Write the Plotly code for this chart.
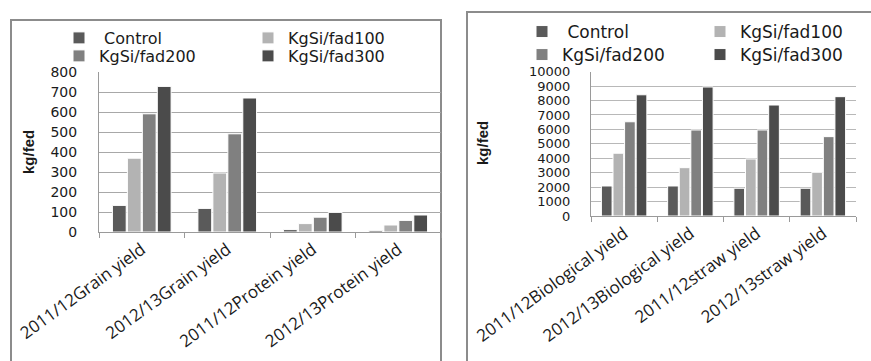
import plotly.graph_objects as go

W, H = 871, 361

series_names = ["Control", "KgSi/fad100", "KgSi/fad200", "KgSi/fad300"]
legend_labels = [" Control", "KgSi/fad100", "KgSi/fad200", "KgSi/fad300"]
colors = ["#5a5a5a", "#b3b3b3", "#808080", "#4b4b4b"]

left_categories = ["2011/12Grain yield", "2012/13Grain yield",
                   "2011/12Protein yield", "2012/13Protein yield"]
left_control = [133, 118, 12, 8]
left_100 = [369, 295, 42, 35]
left_200 = [591, 491, 74, 58]
left_300 = [728, 670, 98, 85]

right_categories = ["2011/12Biological yield", "2012/13Biological yield",
                    "2011/12straw yield", "2012/13straw yield"]
right_control = [2080, 2080, 1920, 1920]
right_100 = [4350, 3350, 3950, 3030]
right_200 = [6530, 5960, 5960, 5500]
right_300 = [8400, 8940, 7690, 8270]

left_tickvals = [0, 100, 200, 300, 400, 500, 600, 700, 800]
right_tickvals = [0, 1000, 2000, 3000, 4000, 5000, 6000, 7000, 8000, 9000, 10000]

left_values = [left_control, left_100, left_200, left_300]
right_values = [right_control, right_100, right_200, right_300]

def px(x):
    return x / W

def py(y):
    return 1 - y / H

fig = go.Figure()

# row assignment of legend entries: first two on row 1, last two on row 2
left_legends = ["legend", "legend", "legend3", "legend3"]
right_legends = ["legend2", "legend2", "legend4", "legend4"]

for lab, col, vals, lg in zip(legend_labels, colors, left_values, left_legends):
    fig.add_trace(go.Bar(
        x=left_categories, y=vals, name=lab, marker_color=col,
        marker_line_color="white", marker_line_width=1,
        xaxis="x", yaxis="y", legend=lg,
    ))
for lab, col, vals, lg in zip(legend_labels, colors, right_values, right_legends):
    fig.add_trace(go.Bar(
        x=right_categories, y=vals, name=lab, marker_color=col,
        marker_line_color="white", marker_line_width=1,
        xaxis="x2", yaxis="y2", legend=lg,
    ))

tick_font = dict(family="DejaVu Sans", size=14, color="#1a1a1a")
cat_font = dict(family="Open Sans", size=17, color="#1a1a1a")

def leg(x, y, w, size):
    return dict(orientation="h", x=px(x), y=py(y), xanchor="left", yanchor="middle",
                entrywidth=w, entrywidthmode="pixels",
                font=dict(family="DejaVu Sans", size=size, color="#1a1a1a"),
                bgcolor="rgba(0,0,0,0)", itemclick=False, itemdoubleclick=False)

fig.update_layout(
    width=W, height=H,
    margin=dict(l=0, r=0, t=0, b=0, autoexpand=False),
    paper_bgcolor="white", plot_bgcolor="white",
    barmode="group", bargap=0.3, bargroupgap=0.08,
    xaxis=dict(domain=[px(99), px(441)], anchor="y",
               showgrid=False, showline=True, linecolor="#9a9a9a", linewidth=1,
               ticks="outside", tickson="boundaries", ticklen=5, tickcolor="#9a9a9a",
               tickangle=-36, tickfont=cat_font),
    yaxis=dict(domain=[py(232), py(72)], anchor="x", range=[0, 800],
               tickvals=left_tickvals, tickformat="d", showgrid=True, gridcolor="#a8a8a8", gridwidth=1,
               showline=True, linecolor="#9a9a9a", linewidth=1, zeroline=False,
               ticks="", ticklabelstandoff=18, tickfont=tick_font),
    xaxis2=dict(domain=[px(591), px(856)], anchor="y2",
                showgrid=False, showline=True, linecolor="#9a9a9a", linewidth=1,
                ticks="outside", tickson="boundaries", ticklen=5, tickcolor="#9a9a9a",
                tickangle=-36, tickfont=cat_font),
    yaxis2=dict(domain=[py(216), py(71.7)], anchor="x2", range=[0, 10000],
                tickvals=right_tickvals, tickformat="d", showgrid=True, gridcolor="#b8b8b8", gridwidth=1,
                showline=True, linecolor="#9a9a9a", linewidth=1, zeroline=False,
                ticks="", ticklabelstandoff=17, tickfont=dict(tick_font, size=13)),
    legend=leg(59, 38, 144, 16),
    legend3=leg(59, 56, 144, 16),
    legend2=leg(522, 32, 133, 17),
    legend4=leg(522, 55, 133, 17),
    annotations=[
        dict(text="<b>kg/fed</b>", x=px(28), y=py(152), xref="paper", yref="paper",
             xanchor="center", yanchor="middle",
             textangle=-90, showarrow=False, font=dict(family="Liberation Sans", size=15, color="#1a1a1a")),
        dict(text="<b>kg/fed</b>", x=px(482), y=py(143), xref="paper", yref="paper",
             xanchor="center", yanchor="middle",
             textangle=-90, showarrow=False, font=dict(family="Liberation Sans", size=15, color="#1a1a1a")),
    ],
    shapes=[
        dict(type="rect", xref="paper", yref="paper", x0=px(11), x1=px(441), y0=-0.1, y1=py(20),
             line=dict(color="#8c8c8c", width=2), layer="below"),
        dict(type="rect", xref="paper", yref="paper", x0=px(467), x1=1.05, y0=-0.1, y1=py(12),
             line=dict(color="#8c8c8c", width=2), layer="below"),
    ],
)

fig.write_html("out.html")
